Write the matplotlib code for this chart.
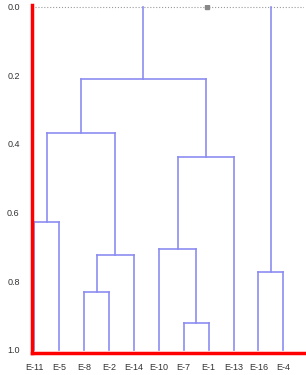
"""Dendrogram of E-samples, drawn by hand from a linkage-style merge table."""

import matplotlib
matplotlib.use("Agg")
import matplotlib.pyplot as plt

# Leaf labels in display order
leaves = ["E-11", "E-5", "E-8", "E-2", "E-14", "E-10",
          "E-7", "E-1", "E-13", "E-16", "E-4"]
leaf_height = 1.0

# Merges (scipy-style ids: leaves 0..10, new clusters from 11)
merge_left = [0, 2, 12, 11, 6, 5, 16, 14, 9, 18]
merge_right = [1, 3, 4, 13, 7, 15, 8, 17, 10, 19]
merge_height = [0.629, 0.833, 0.723, 0.369, 0.922, 0.707, 0.437, 0.210, 0.774, 0.0]

y_ticks = [0.0, 0.2, 0.4, 0.6, 0.8, 1.0]

BLUE = "#8C8CF2"
RED = "#FF0000"
INK = "#333333"

plt.rcParams["font.family"] = ["Liberation Sans", "DejaVu Sans"]

fig = plt.figure(figsize=(3.06, 3.75), dpi=100)
ax = fig.add_axes([0.105, 0.059, 0.89, 0.928])

# position/height of every node
xs = {i: float(i) for i in range(len(leaves))}
hs = {i: leaf_height for i in range(len(leaves))}
n = len(leaves)
for k, (a, b, h) in enumerate(zip(merge_left, merge_right, merge_height)):
    node = n + k
    xs[node] = (xs[a] + xs[b]) / 2
    hs[node] = h
    ax.plot([xs[a], xs[a]], [hs[a], h], color=BLUE, lw=1.2)
    ax.plot([xs[b], xs[b]], [hs[b], h], color=BLUE, lw=1.2)
    if h > 0:
        ax.plot([xs[a], xs[b]], [h, h], color=BLUE, lw=1.2)

# root line at 0 is shown as a dotted guide
ax.axhline(0.0, color="#9a9a9a", ls=":", lw=0.8, zorder=1)
root = n + len(merge_left) - 1
ax.plot([xs[root]], [0.0], marker="s", ms=2.5, color="#888888")

ax.set_xlim(-0.09, 10.85)
ax.set_ylim(1.009, -0.005)
ax.set_xticks(range(n), labels=leaves)
ax.set_yticks(y_ticks, labels=[f"{t:.1f}" for t in y_ticks])
ax.tick_params(axis="both", labelsize=6.5, colors=INK, length=0)
ax.tick_params(axis="y", pad=9)
ax.tick_params(axis="x", pad=7)

for side in ("top", "right"):
    ax.spines[side].set_visible(False)
for side in ("left", "bottom"):
    ax.spines[side].set_color(RED)
    ax.spines[side].set_linewidth(2.5)

fig.savefig("out.png", dpi=100)
